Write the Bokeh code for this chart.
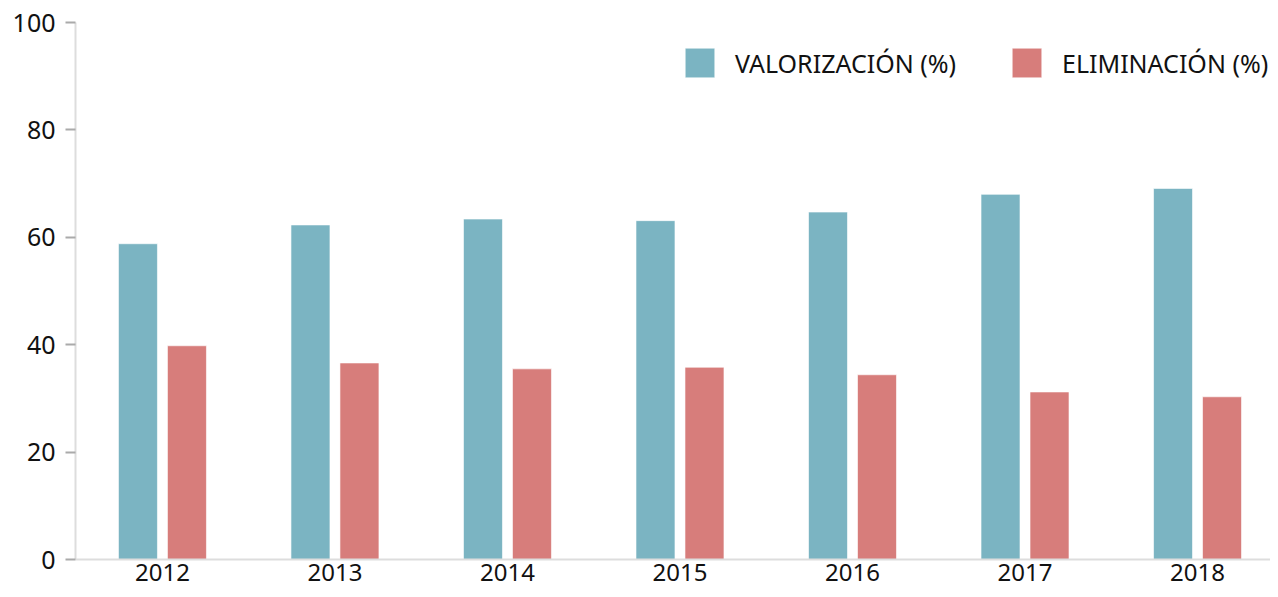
from bokeh.plotting import figure
from bokeh.models import Range1d, Legend, LegendItem, FixedTicker
from bokeh.transform import dodge
from bokeh.embed import file_html
from bokeh.resources import INLINE

years = ["2012", "2013", "2014", "2015", "2016", "2017", "2018"]
valorizacion = [58.8, 62.3, 63.4, 63.1, 64.7, 68.0, 69.1]
eliminacion = [39.8, 36.6, 35.5, 35.8, 34.4, 31.2, 30.3]
y_ticks = [0, 20, 40, 60, 80, 100]

TEAL = "#7bb4c2"
RED = "#d77d7b"
FONT = "Noto Sans"

idx = list(range(len(years)))

p = figure(
    x_range=Range1d(-0.504, 6.423),
    y_range=Range1d(0, 100),
    width=1270, height=589,
    output_backend="svg", toolbar_location=None,
    min_border_left=75, min_border_top=22, min_border_bottom=30, min_border_right=0,
)
p.outline_line_color = None
p.xgrid.visible = False
p.ygrid.visible = False

data = dict(idx=idx, years=years, valorizacion=valorizacion, eliminacion=eliminacion)
r1 = p.vbar(x=dodge("idx", -0.142), top="valorizacion", width=0.226,
            source=data, fill_color=TEAL, line_color="white", line_alpha=0.6, line_width=1)
r2 = p.vbar(x=dodge("idx", 0.142), top="eliminacion", width=0.226,
            source=data, fill_color=RED, line_color="white", line_alpha=0.6, line_width=1)

# y axis
ya = p.yaxis[0]
ya.ticker = FixedTicker(ticks=y_ticks)
ya.axis_line_color = "#dddddd"
ya.axis_line_width = 2
ya.major_tick_line_color = "#aaaaaa"
ya.major_tick_line_width = 2
ya.major_tick_out = 10
ya.major_tick_in = 0
ya.minor_tick_line_color = None
ya.major_label_text_font = FONT
ya.major_label_text_font_size = "25px"
ya.major_label_text_color = "#111111"
ya.major_label_standoff = 10

# x axis
xa = p.xaxis[0]
xa.ticker = FixedTicker(ticks=idx)
xa.major_label_overrides = {i: y for i, y in zip(idx, years)}
xa.axis_line_color = "#dddddd"
xa.axis_line_width = 2
xa.major_tick_line_color = None
xa.minor_tick_line_color = None
xa.major_tick_out = 0
xa.major_tick_in = 0
xa.major_label_text_font = FONT
xa.major_label_text_font_size = "24px"
xa.major_label_text_color = "#111111"
xa.major_label_standoff = 4

legend = Legend(
    items=[LegendItem(label="VALORIZACIÓN (%)", renderers=[r1]),
           LegendItem(label="ELIMINACIÓN (%)", renderers=[r2])],
    orientation="horizontal",
    location=(606, 478),
    glyph_width=37, glyph_height=37,
    label_standoff=17, spacing=52, padding=0, margin=0,
    border_line_color=None, background_fill_alpha=0,
    label_text_font=FONT, label_text_font_size="25px", label_text_color="#111111",
    label_height=37,
)
p.add_layout(legend, "center")

open("out.html", "w").write(file_html(p, INLINE))
